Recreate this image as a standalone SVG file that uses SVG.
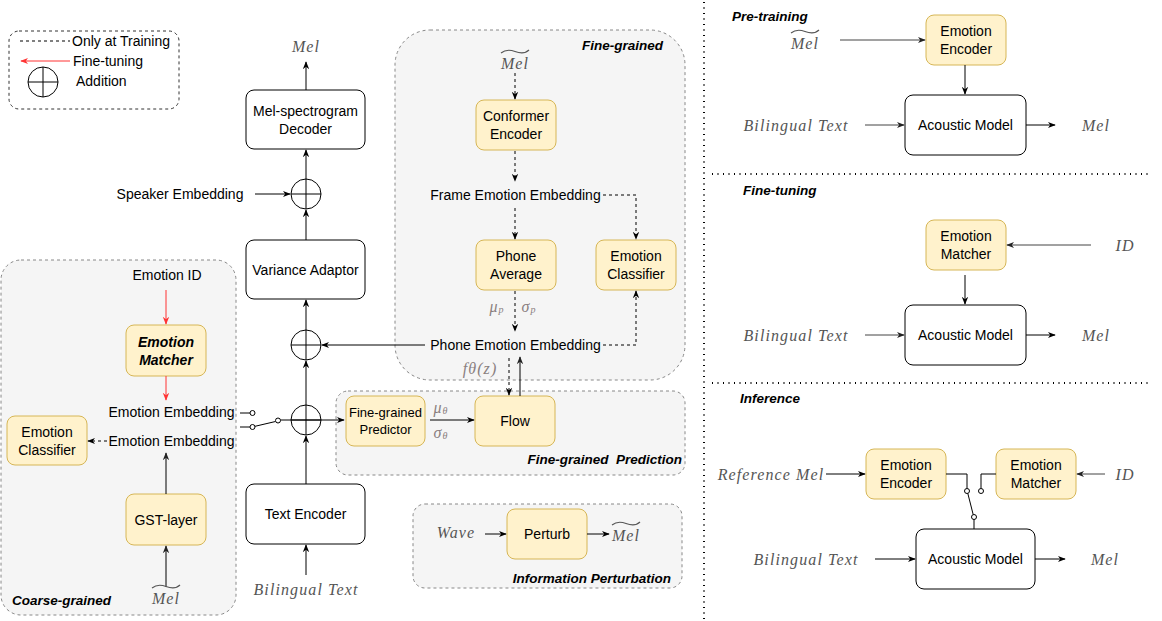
<svg xmlns="http://www.w3.org/2000/svg" width="1162" height="621" viewBox="0 0 1162 621">
<style>
.t{font-family:"Liberation Sans",Arial,sans-serif;font-size:14px;fill:#000;text-anchor:middle;dominant-baseline:central}
.s{font-size:13px}
.b{font-weight:bold;font-style:italic;font-size:13.5px}
.st{text-anchor:start}
.en{text-anchor:end}
.m{font-family:"Liberation Serif","Times New Roman",serif;font-style:italic;font-size:16px;fill:#555;text-anchor:middle;dominant-baseline:central;letter-spacing:1.1px}
.p{fill:#8a7f7f}
.y{fill:#fff2cc;stroke:#d6b656;stroke-width:1}
.w{fill:#fff;stroke:#000;stroke-width:1}
.g{fill:#f5f5f5;stroke:#888;stroke-width:1;stroke-dasharray:3 3}
.c{fill:none;stroke:#000;stroke-width:1}
.gr{stroke:#444}
.d{stroke-dasharray:3 3}
.r{stroke:#ff3333}
.tl{fill:none;stroke:#555;stroke-width:1.1}
.sw{fill:#fff;stroke:#000;stroke-width:1}
.dot{fill:none;stroke:#000;stroke-width:2;stroke-dasharray:1 4.5}
</style>
<defs>
<marker id="a" viewBox="0 0 10 10" refX="9" refY="5" markerWidth="8" markerHeight="8" orient="auto" markerUnits="userSpaceOnUse"><path d="M0,1 L10,5 L0,9 L3,5 z" fill="#000"/></marker>
<marker id="ar" viewBox="0 0 10 10" refX="9" refY="5" markerWidth="8" markerHeight="8" orient="auto" markerUnits="userSpaceOnUse"><path d="M0,1 L10,5 L0,9 L3,5 z" fill="#ff3333"/></marker>
<marker id="ag" viewBox="0 0 10 10" refX="9" refY="5" markerWidth="8" markerHeight="8" orient="auto" markerUnits="userSpaceOnUse"><path d="M0,1 L10,5 L0,9 L3,5 z" fill="#222"/></marker>
</defs>
<rect width="1162" height="621" fill="#fff"/>

<!-- group containers -->
<g id="groups">
<rect id="legend-box" x="9" y="31" width="170" height="78" rx="10" fill="#fff" stroke="#333" stroke-dasharray="3 3"/>
<rect id="coarse-box" class="g" x="1" y="260" width="235" height="355" rx="20"/>
<rect id="fine-box" class="g" x="395" y="30" width="290" height="350" rx="35"/>
<rect id="pred-box" class="g" x="336" y="391" width="349" height="84" rx="12"/>
<rect id="pert-box" class="g" x="413" y="504" width="269" height="84" rx="12"/>
</g>

<!-- legend -->
<g id="legend">
<line class="c d" x1="20" y1="41" x2="70" y2="41"/>
<text class="t st" x="72" y="41">Only at Training</text>
<line class="c r" x1="70" y1="61" x2="21" y2="61" marker-end="url(#ar)"/>
<text class="t st" x="73" y="61">Fine-tuning</text>
<circle cx="43" cy="82" r="15" class="c"/>
<line class="c" x1="28" y1="82" x2="58" y2="82"/>
<line class="c" x1="43" y1="67" x2="43" y2="97" stroke="#555"/>
<text class="t st" x="76" y="81">Addition</text>
</g>

<!-- main nodes -->
<g id="decoder"><rect class="w" x="246" y="90" width="119" height="59" rx="8"/><text class="t" x="305.5" y="110.5">Mel-spectrogram</text><text class="t" x="305.5" y="128.5">Decoder</text></g>
<g id="variance-adaptor"><rect class="w" x="246" y="240" width="119" height="59" rx="8"/><text class="t" x="305.5" y="269.5">Variance Adaptor</text></g>
<g id="text-encoder"><rect class="w" x="246" y="484" width="119" height="60" rx="8"/><text class="t" x="305.5" y="514">Text Encoder</text></g>
<g id="add-speaker"><circle cx="306" cy="194" r="15" class="w"/><line class="c" x1="291" y1="194" x2="321" y2="194"/><line class="c" x1="306" y1="179" x2="306" y2="209"/></g>
<g id="add-phone"><circle cx="306" cy="345" r="15" class="w"/><line class="c" x1="291" y1="345" x2="321" y2="345"/><line class="c" x1="306" y1="330" x2="306" y2="360"/></g>
<g id="add-emotion"><circle cx="306" cy="420" r="15" class="w"/><line class="c" x1="291" y1="420" x2="321" y2="420"/><line class="c" x1="306" y1="405" x2="306" y2="435"/></g>

<!-- coarse-grained -->
<g id="emotion-matcher"><rect class="y" x="126" y="325" width="80" height="51" rx="8"/><text class="t" x="166" y="341.5" font-weight="bold" font-style="italic">Emotion</text><text class="t" x="166" y="359.5" font-weight="bold" font-style="italic">Matcher</text></g>
<g id="coarse-classifier"><rect class="y" x="7" y="416" width="80" height="49" rx="8"/><text class="t" x="47" y="431.5">Emotion</text><text class="t" x="47" y="449.5">Classifier</text></g>
<g id="gst"><rect class="y" x="126" y="494" width="80" height="51" rx="8"/><text class="t" x="166" y="519.5">GST-layer</text></g>

<!-- fine-grained -->
<g id="conformer"><rect class="y" x="476" y="100" width="80" height="50" rx="8"/><text class="t" x="516" y="116">Conformer</text><text class="t" x="516" y="134">Encoder</text></g>
<g id="phone-average"><rect class="y" x="476" y="240" width="80" height="50" rx="8"/><text class="t" x="516" y="256">Phone</text><text class="t" x="516" y="274">Average</text></g>
<g id="fine-classifier"><rect class="y" x="596" y="240" width="80" height="50" rx="8"/><text class="t" x="636" y="256">Emotion</text><text class="t" x="636" y="274">Classifier</text></g>
<g id="fg-predictor"><rect class="y" x="346" y="396" width="79" height="50" rx="8"/><text class="t s" x="385.5" y="412">Fine-grained</text><text class="t s" x="385.5" y="429">Predictor</text></g>
<g id="flow"><rect class="y" x="475" y="396" width="80" height="50" rx="8"/><text class="t" x="515" y="421">Flow</text></g>
<g id="perturb"><rect class="y" x="507" y="509" width="80" height="50" rx="8"/><text class="t" x="547" y="534">Perturb</text></g>

<!-- right panel nodes -->
<g id="pt-encoder"><rect class="y" x="926" y="15" width="80" height="50" rx="8"/><text class="t" x="966" y="31">Emotion</text><text class="t" x="966" y="49">Encoder</text></g>
<g id="pt-acoustic"><rect class="w" x="905" y="95" width="121" height="60" rx="8"/><text class="t" x="965.5" y="125">Acoustic Model</text></g>
<g id="ft-matcher"><rect class="y" x="926" y="220" width="80" height="50" rx="8"/><text class="t" x="966" y="236">Emotion</text><text class="t" x="966" y="254">Matcher</text></g>
<g id="ft-acoustic"><rect class="w" x="905" y="305" width="121" height="60" rx="8"/><text class="t" x="965.5" y="335">Acoustic Model</text></g>
<g id="inf-encoder"><rect class="y" x="866" y="449" width="80" height="50" rx="8"/><text class="t" x="906" y="465">Emotion</text><text class="t" x="906" y="483">Encoder</text></g>
<g id="inf-matcher"><rect class="y" x="996" y="449" width="80" height="50" rx="8"/><text class="t" x="1036" y="465">Emotion</text><text class="t" x="1036" y="483">Matcher</text></g>
<g id="inf-acoustic"><rect class="w" x="916" y="529" width="119" height="60" rx="8"/><text class="t" x="975.5" y="559">Acoustic Model</text></g>

<!-- connectors -->
<g id="connectors">
<line class="c" x1="306" y1="90" x2="306" y2="62" marker-end="url(#a)"/>
<line class="c" x1="306" y1="179" x2="306" y2="150" marker-end="url(#a)"/>
<line class="c" x1="306" y1="240" x2="306" y2="210" marker-end="url(#a)"/>
<line class="c" x1="306" y1="330" x2="306" y2="300" marker-end="url(#a)"/>
<line class="c" x1="306" y1="405" x2="306" y2="361" marker-end="url(#a)"/>
<line class="c" x1="306" y1="484" x2="306" y2="436" marker-end="url(#a)"/>
<line class="c" x1="306" y1="575" x2="306" y2="545" marker-end="url(#a)"/>
<line class="c" x1="255" y1="194" x2="290" y2="194" marker-end="url(#a)"/>
<line class="c" x1="425" y1="345" x2="322" y2="345" marker-end="url(#a)"/>
<!-- switch -->
<line class="c" x1="240" y1="413" x2="250" y2="413" stroke="#555"/>
<circle class="sw" cx="252.5" cy="413" r="2.5"/>
<line class="c" x1="240" y1="427" x2="250" y2="427" stroke="#555"/>
<circle class="sw" cx="252.5" cy="427" r="2.5"/>
<line class="c" x1="255" y1="426.3" x2="275.5" y2="421.5"/>
<circle class="sw" cx="278" cy="420.5" r="2.5"/>
<line class="c" x1="280.5" y1="420" x2="344" y2="420" marker-end="url(#a)"/>
<!-- fine-grained -->
<line class="c d" x1="515" y1="73" x2="515" y2="99" marker-end="url(#a)"/>
<line class="c d" x1="515" y1="151" x2="515" y2="181" marker-end="url(#a)"/>
<line class="c d" x1="515" y1="208" x2="515" y2="239" marker-end="url(#a)"/>
<line class="c d" x1="515" y1="291" x2="515" y2="331" marker-end="url(#a)"/>
<polyline class="c d" points="603,195 636,195 636,239" marker-end="url(#a)"/>
<polyline class="c d" points="603,345 636,345 636,291" marker-end="url(#a)"/>
<line class="c d" x1="509" y1="358" x2="509" y2="395" marker-end="url(#a)"/>
<line class="c" x1="520" y1="396" x2="520" y2="357" stroke="#333" marker-end="url(#ag)"/>
<line class="c" x1="430" y1="420" x2="474" y2="420" marker-end="url(#a)"/>
<line class="c" x1="485" y1="534" x2="506" y2="534" marker-end="url(#a)"/>
<line class="c" x1="587" y1="534" x2="609" y2="534" marker-end="url(#a)"/>
<!-- coarse -->
<line class="c r" x1="166" y1="290" x2="166" y2="324" marker-end="url(#ar)"/>
<line class="c r" x1="166" y1="376" x2="166" y2="400" marker-end="url(#ar)"/>
<line class="c d" x1="107" y1="441" x2="88" y2="441" marker-end="url(#a)"/>
<line class="c" x1="166" y1="494" x2="166" y2="453" stroke="#333" marker-end="url(#ag)"/>
<line class="c" x1="166" y1="587" x2="166" y2="546" stroke="#333" marker-end="url(#ag)"/>
<!-- right panel -->
<line class="c gr" x1="840" y1="40" x2="925" y2="40" marker-end="url(#ag)"/>
<line class="c" x1="965" y1="65" x2="965" y2="94" marker-end="url(#a)"/>
<line class="c gr" x1="865" y1="125" x2="904" y2="125" marker-end="url(#ag)"/>
<line class="c" x1="1026" y1="125" x2="1055" y2="125" marker-end="url(#a)"/>
<line class="c gr" x1="1091" y1="245" x2="1007" y2="245" marker-end="url(#ag)"/>
<line class="c" x1="965" y1="275" x2="965" y2="304" marker-end="url(#a)"/>
<line class="c gr" x1="865" y1="335" x2="904" y2="335" marker-end="url(#ag)"/>
<line class="c" x1="1026" y1="335" x2="1055" y2="335" marker-end="url(#a)"/>
<line class="c" x1="826" y1="474" x2="865" y2="474" marker-end="url(#a)"/>
<line class="c gr" x1="1105" y1="474" x2="1077" y2="474" marker-end="url(#ag)"/>
<line class="c" x1="875" y1="559" x2="915" y2="559" marker-end="url(#a)"/>
<line class="c" x1="1035" y1="559" x2="1065" y2="559" marker-end="url(#a)"/>
<polyline class="c" stroke="#666" points="946,474 967,474 967,488.5"/>
<circle class="sw" cx="967" cy="491" r="2.5"/>
<polyline class="c" stroke="#666" points="996,474 981,474 981,488.5"/>
<circle class="sw" cx="981" cy="491" r="2.5"/>
<line class="c" x1="967.8" y1="493.4" x2="973.2" y2="514.6"/>
<circle class="sw" cx="974" cy="517" r="2.5"/>
<line class="c" x1="974" y1="519.5" x2="974" y2="529" stroke="#666"/>
</g>

<!-- separators -->
<g id="separators">
<line class="dot" x1="704" y1="2" x2="704" y2="621"/>
<line class="dot" x1="712" y1="174" x2="1152" y2="174"/>
<line class="dot" x1="712" y1="383" x2="1152" y2="383"/>
</g>

<!-- labels -->
<g id="labels">
<text class="t" x="167" y="275">Emotion ID</text>
<text class="t" x="171.5" y="412">Emotion Embedding</text>
<text class="t" x="171.5" y="441">Emotion Embedding</text>
<text class="t" x="180" y="194">Speaker Embedding</text>
<text class="t" x="515.5" y="195">Frame Emotion Embedding</text>
<text class="t" x="515.5" y="345">Phone Emotion Embedding</text>
<text class="t b en" x="663" y="45">Fine-grained</text>
<text class="t b en" x="682" y="459" xml:space="preserve">Fine-grained  Prediction</text>
<text class="t b en" x="671" y="578">Information Perturbation</text>
<text class="t b st" x="12" y="600">Coarse-grained</text>
<text class="t b st" x="732" y="16">Pre-training</text>
<text class="t b st" x="743" y="190">Fine-tuning</text>
<text class="t b st" x="740" y="398">Inference</text>

<text class="m" x="306" y="46">Mel</text>
<text class="m" x="515" y="63">Mel</text><path class="tl" d="M501,53 C506,49 511,50 515,51.5 S525,54 529,50"/>
<text class="m" x="166" y="598">Mel</text><path class="tl" d="M152,588 C157,584 162,585 166,586.5 S176,589 180,585"/>
<text class="m" x="626" y="535">Mel</text><path class="tl" d="M612,525 C617,521 622,522 626,523.5 S636,526 640,522"/>
<text class="m" x="805" y="43">Mel</text><path class="tl" d="M791,33 C796,29 801,30 805,31.5 S815,34 819,30"/>
<text class="m" x="306" y="589">Bilingual Text</text>
<text class="m" x="456" y="532">Wave</text>
<text class="m p" x="441" y="407">μ<tspan font-size="10" dy="3">θ</tspan></text>
<text class="m p" x="441" y="432">σ<tspan font-size="10" dy="3">θ</tspan></text>
<text class="m p" x="497" y="306">μ<tspan font-size="10" dy="3">p</tspan></text>
<text class="m p" x="529" y="306">σ<tspan font-size="10" dy="3">p</tspan></text>
<text class="m p" x="480" y="368">fθ(z)</text>
<text class="m" x="796" y="125">Bilingual Text</text>
<text class="m" x="1096" y="125">Mel</text>
<text class="m" x="1125" y="245">ID</text>
<text class="m" x="796" y="335">Bilingual Text</text>
<text class="m" x="1096" y="335">Mel</text>
<text class="m" x="771" y="474">Reference Mel</text>
<text class="m" x="1125" y="474">ID</text>
<text class="m" x="806" y="559">Bilingual Text</text>
<text class="m" x="1105" y="559">Mel</text>
</g>
</svg>
